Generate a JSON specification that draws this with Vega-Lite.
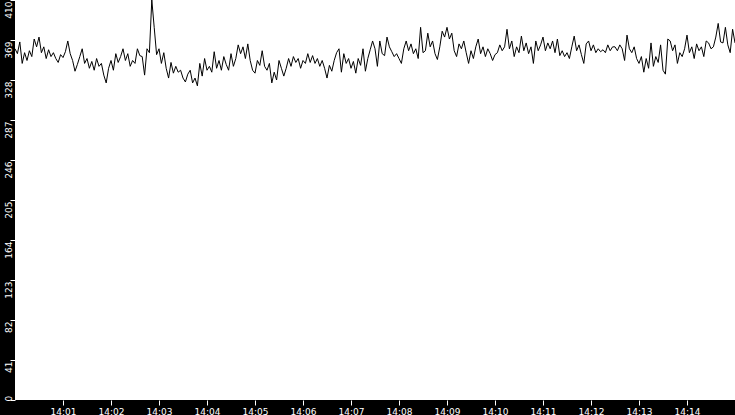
{
  "$schema": "https://vega.github.io/schema/vega-lite/v6.json",
  "width": 720,
  "height": 400,
  "autosize": {"type": "none"},
  "padding": {"left": 15, "top": 0, "right": 0, "bottom": 15},
  "background": "black",
  "config": {
    "view": {"fill": "white", "stroke": null},
    "axis": {
      "grid": false,
      "domain": false,
      "tickColor": "white",
      "tickSize": 5,
      "labelColor": "white",
      "labelFont": "DejaVu Sans",
      "labelFontSize": 9,
      "labelOverlap": false,
      "title": null
    }
  },
  "data": {
    "format": {"parse": {"t": "date:'%H:%M:%S'"}},
    "values": [
      {"t": "14:00:00", "v": 360}, {"t": "14:00:03", "v": 355}, {"t": "14:00:06", "v": 367}, {"t": "14:00:09", "v": 345}, {"t": "14:00:12", "v": 356},
      {"t": "14:00:15", "v": 348}, {"t": "14:00:18", "v": 358}, {"t": "14:00:21", "v": 352}, {"t": "14:00:24", "v": 370}, {"t": "14:00:27", "v": 362},
      {"t": "14:00:30", "v": 372}, {"t": "14:00:33", "v": 356}, {"t": "14:00:36", "v": 362}, {"t": "14:00:39", "v": 350}, {"t": "14:00:42", "v": 359},
      {"t": "14:00:45", "v": 352}, {"t": "14:00:48", "v": 356}, {"t": "14:00:51", "v": 350}, {"t": "14:00:54", "v": 346}, {"t": "14:00:57", "v": 354},
      {"t": "14:01:00", "v": 351}, {"t": "14:01:03", "v": 357}, {"t": "14:01:06", "v": 368}, {"t": "14:01:09", "v": 355}, {"t": "14:01:12", "v": 348},
      {"t": "14:01:15", "v": 337}, {"t": "14:01:18", "v": 344}, {"t": "14:01:21", "v": 352}, {"t": "14:01:24", "v": 360}, {"t": "14:01:27", "v": 345},
      {"t": "14:01:30", "v": 350}, {"t": "14:01:33", "v": 340}, {"t": "14:01:36", "v": 347}, {"t": "14:01:39", "v": 338}, {"t": "14:01:42", "v": 350},
      {"t": "14:01:45", "v": 342}, {"t": "14:01:48", "v": 345}, {"t": "14:01:51", "v": 333}, {"t": "14:01:54", "v": 325}, {"t": "14:01:57", "v": 340},
      {"t": "14:02:00", "v": 348}, {"t": "14:02:03", "v": 338}, {"t": "14:02:06", "v": 355}, {"t": "14:02:09", "v": 346}, {"t": "14:02:12", "v": 352},
      {"t": "14:02:15", "v": 360}, {"t": "14:02:18", "v": 348}, {"t": "14:02:21", "v": 355}, {"t": "14:02:24", "v": 342}, {"t": "14:02:27", "v": 348},
      {"t": "14:02:30", "v": 345}, {"t": "14:02:33", "v": 360}, {"t": "14:02:36", "v": 353}, {"t": "14:02:39", "v": 352}, {"t": "14:02:42", "v": 333},
      {"t": "14:02:45", "v": 360}, {"t": "14:02:48", "v": 356}, {"t": "14:02:51", "v": 410}, {"t": "14:02:54", "v": 382}, {"t": "14:02:57", "v": 354},
      {"t": "14:03:00", "v": 360}, {"t": "14:03:03", "v": 345}, {"t": "14:03:06", "v": 356}, {"t": "14:03:09", "v": 340}, {"t": "14:03:12", "v": 330},
      {"t": "14:03:15", "v": 346}, {"t": "14:03:18", "v": 335}, {"t": "14:03:21", "v": 342}, {"t": "14:03:24", "v": 336}, {"t": "14:03:27", "v": 338},
      {"t": "14:03:30", "v": 330}, {"t": "14:03:33", "v": 326}, {"t": "14:03:36", "v": 334}, {"t": "14:03:39", "v": 338}, {"t": "14:03:42", "v": 325},
      {"t": "14:03:45", "v": 330}, {"t": "14:03:48", "v": 322}, {"t": "14:03:51", "v": 345}, {"t": "14:03:54", "v": 332}, {"t": "14:03:57", "v": 350},
      {"t": "14:04:00", "v": 338}, {"t": "14:04:03", "v": 342}, {"t": "14:04:06", "v": 336}, {"t": "14:04:09", "v": 357}, {"t": "14:04:12", "v": 340},
      {"t": "14:04:15", "v": 348}, {"t": "14:04:18", "v": 338}, {"t": "14:04:21", "v": 352}, {"t": "14:04:24", "v": 344}, {"t": "14:04:27", "v": 338},
      {"t": "14:04:30", "v": 355}, {"t": "14:04:33", "v": 342}, {"t": "14:04:36", "v": 350}, {"t": "14:04:39", "v": 364}, {"t": "14:04:42", "v": 355},
      {"t": "14:04:45", "v": 362}, {"t": "14:04:48", "v": 350}, {"t": "14:04:51", "v": 365}, {"t": "14:04:54", "v": 348}, {"t": "14:04:57", "v": 338},
      {"t": "14:05:00", "v": 335}, {"t": "14:05:03", "v": 348}, {"t": "14:05:06", "v": 343}, {"t": "14:05:09", "v": 358}, {"t": "14:05:12", "v": 342},
      {"t": "14:05:15", "v": 338}, {"t": "14:05:18", "v": 345}, {"t": "14:05:21", "v": 325}, {"t": "14:05:24", "v": 336}, {"t": "14:05:27", "v": 328},
      {"t": "14:05:30", "v": 348}, {"t": "14:05:33", "v": 340}, {"t": "14:05:36", "v": 332}, {"t": "14:05:39", "v": 340}, {"t": "14:05:42", "v": 350},
      {"t": "14:05:45", "v": 342}, {"t": "14:05:48", "v": 352}, {"t": "14:05:51", "v": 346}, {"t": "14:05:54", "v": 350}, {"t": "14:05:57", "v": 340},
      {"t": "14:06:00", "v": 348}, {"t": "14:06:03", "v": 345}, {"t": "14:06:06", "v": 355}, {"t": "14:06:09", "v": 346}, {"t": "14:06:12", "v": 353},
      {"t": "14:06:15", "v": 345}, {"t": "14:06:18", "v": 350}, {"t": "14:06:21", "v": 342}, {"t": "14:06:24", "v": 348}, {"t": "14:06:27", "v": 340},
      {"t": "14:06:30", "v": 330}, {"t": "14:06:33", "v": 343}, {"t": "14:06:36", "v": 337}, {"t": "14:06:39", "v": 348}, {"t": "14:06:42", "v": 356},
      {"t": "14:06:45", "v": 360}, {"t": "14:06:48", "v": 336}, {"t": "14:06:51", "v": 355}, {"t": "14:06:54", "v": 345}, {"t": "14:06:57", "v": 350},
      {"t": "14:07:00", "v": 340}, {"t": "14:07:03", "v": 347}, {"t": "14:07:06", "v": 335}, {"t": "14:07:09", "v": 350}, {"t": "14:07:12", "v": 343},
      {"t": "14:07:15", "v": 360}, {"t": "14:07:18", "v": 337}, {"t": "14:07:21", "v": 350}, {"t": "14:07:24", "v": 359}, {"t": "14:07:27", "v": 368},
      {"t": "14:07:30", "v": 360}, {"t": "14:07:33", "v": 342}, {"t": "14:07:36", "v": 368}, {"t": "14:07:39", "v": 355}, {"t": "14:07:42", "v": 353},
      {"t": "14:07:45", "v": 372}, {"t": "14:07:48", "v": 362}, {"t": "14:07:51", "v": 357}, {"t": "14:07:54", "v": 352}, {"t": "14:07:57", "v": 355},
      {"t": "14:08:00", "v": 350}, {"t": "14:08:03", "v": 345}, {"t": "14:08:06", "v": 360}, {"t": "14:08:09", "v": 368}, {"t": "14:08:12", "v": 358},
      {"t": "14:08:15", "v": 365}, {"t": "14:08:18", "v": 355}, {"t": "14:08:21", "v": 360}, {"t": "14:08:24", "v": 350}, {"t": "14:08:27", "v": 382},
      {"t": "14:08:30", "v": 356}, {"t": "14:08:33", "v": 358}, {"t": "14:08:36", "v": 376}, {"t": "14:08:39", "v": 362}, {"t": "14:08:42", "v": 368},
      {"t": "14:08:45", "v": 355}, {"t": "14:08:48", "v": 349}, {"t": "14:08:51", "v": 362}, {"t": "14:08:54", "v": 378}, {"t": "14:08:57", "v": 372},
      {"t": "14:09:00", "v": 382}, {"t": "14:09:03", "v": 370}, {"t": "14:09:06", "v": 376}, {"t": "14:09:09", "v": 358}, {"t": "14:09:12", "v": 352},
      {"t": "14:09:15", "v": 365}, {"t": "14:09:18", "v": 360}, {"t": "14:09:21", "v": 368}, {"t": "14:09:24", "v": 356}, {"t": "14:09:27", "v": 345},
      {"t": "14:09:30", "v": 358}, {"t": "14:09:33", "v": 350}, {"t": "14:09:36", "v": 362}, {"t": "14:09:39", "v": 370}, {"t": "14:09:42", "v": 355},
      {"t": "14:09:45", "v": 362}, {"t": "14:09:48", "v": 352}, {"t": "14:09:51", "v": 360}, {"t": "14:09:54", "v": 355}, {"t": "14:09:57", "v": 348},
      {"t": "14:10:00", "v": 354}, {"t": "14:10:03", "v": 356}, {"t": "14:10:06", "v": 364}, {"t": "14:10:09", "v": 358}, {"t": "14:10:12", "v": 362},
      {"t": "14:10:15", "v": 380}, {"t": "14:10:18", "v": 360}, {"t": "14:10:21", "v": 368}, {"t": "14:10:24", "v": 352}, {"t": "14:10:27", "v": 362},
      {"t": "14:10:30", "v": 356}, {"t": "14:10:33", "v": 373}, {"t": "14:10:36", "v": 358}, {"t": "14:10:39", "v": 366}, {"t": "14:10:42", "v": 355},
      {"t": "14:10:45", "v": 362}, {"t": "14:10:48", "v": 345}, {"t": "14:10:51", "v": 368}, {"t": "14:10:54", "v": 358}, {"t": "14:10:57", "v": 364},
      {"t": "14:11:00", "v": 372}, {"t": "14:11:03", "v": 358}, {"t": "14:11:06", "v": 366}, {"t": "14:11:09", "v": 360}, {"t": "14:11:12", "v": 368},
      {"t": "14:11:15", "v": 356}, {"t": "14:11:18", "v": 370}, {"t": "14:11:21", "v": 353}, {"t": "14:11:24", "v": 358}, {"t": "14:11:27", "v": 352},
      {"t": "14:11:30", "v": 356}, {"t": "14:11:33", "v": 350}, {"t": "14:11:36", "v": 362}, {"t": "14:11:39", "v": 373}, {"t": "14:11:42", "v": 358},
      {"t": "14:11:45", "v": 364}, {"t": "14:11:48", "v": 354}, {"t": "14:11:51", "v": 345}, {"t": "14:11:54", "v": 365}, {"t": "14:11:57", "v": 368},
      {"t": "14:12:00", "v": 358}, {"t": "14:12:03", "v": 364}, {"t": "14:12:06", "v": 356}, {"t": "14:12:09", "v": 360}, {"t": "14:12:12", "v": 357},
      {"t": "14:12:15", "v": 359}, {"t": "14:12:18", "v": 356}, {"t": "14:12:21", "v": 364}, {"t": "14:12:24", "v": 358}, {"t": "14:12:27", "v": 362},
      {"t": "14:12:30", "v": 362}, {"t": "14:12:33", "v": 358}, {"t": "14:12:36", "v": 364}, {"t": "14:12:39", "v": 360}, {"t": "14:12:42", "v": 348},
      {"t": "14:12:45", "v": 374}, {"t": "14:12:48", "v": 360}, {"t": "14:12:51", "v": 356}, {"t": "14:12:54", "v": 362}, {"t": "14:12:57", "v": 350},
      {"t": "14:13:00", "v": 345}, {"t": "14:13:03", "v": 352}, {"t": "14:13:06", "v": 336}, {"t": "14:13:09", "v": 350}, {"t": "14:13:12", "v": 340},
      {"t": "14:13:15", "v": 366}, {"t": "14:13:18", "v": 342}, {"t": "14:13:21", "v": 352}, {"t": "14:13:24", "v": 346}, {"t": "14:13:27", "v": 364},
      {"t": "14:13:30", "v": 338}, {"t": "14:13:33", "v": 334}, {"t": "14:13:36", "v": 370}, {"t": "14:13:39", "v": 368}, {"t": "14:13:42", "v": 358},
      {"t": "14:13:45", "v": 364}, {"t": "14:13:48", "v": 345}, {"t": "14:13:51", "v": 356}, {"t": "14:13:54", "v": 352}, {"t": "14:13:57", "v": 360},
      {"t": "14:14:00", "v": 374}, {"t": "14:14:03", "v": 356}, {"t": "14:14:06", "v": 362}, {"t": "14:14:09", "v": 350}, {"t": "14:14:12", "v": 365},
      {"t": "14:14:15", "v": 358}, {"t": "14:14:18", "v": 362}, {"t": "14:14:21", "v": 352}, {"t": "14:14:24", "v": 368}, {"t": "14:14:27", "v": 366},
      {"t": "14:14:30", "v": 360}, {"t": "14:14:33", "v": 362}, {"t": "14:14:36", "v": 372}, {"t": "14:14:39", "v": 386}, {"t": "14:14:42", "v": 367},
      {"t": "14:14:45", "v": 366}, {"t": "14:14:48", "v": 382}, {"t": "14:14:51", "v": 364}, {"t": "14:14:54", "v": 356}, {"t": "14:14:57", "v": 380},
      {"t": "14:15:00", "v": 366}
    ]
  },
  "mark": {"type": "line", "color": "black", "strokeWidth": 1, "clip": true},
  "encoding": {
    "x": {
      "field": "t",
      "type": "temporal",
      "scale": {
        "domain": [
          {"year": 1900, "month": 1, "date": 1, "hours": 14, "minutes": 0},
          {"year": 1900, "month": 1, "date": 1, "hours": 14, "minutes": 15}
        ],
        "nice": false
      },
      "axis": {
        "format": "%H:%M",
        "labelPadding": 9,
        "labelBaseline": "alphabetic",
        "values": [
          {"year": 1900, "month": 1, "date": 1, "hours": 14, "minutes": 1},
          {"year": 1900, "month": 1, "date": 1, "hours": 14, "minutes": 2},
          {"year": 1900, "month": 1, "date": 1, "hours": 14, "minutes": 3},
          {"year": 1900, "month": 1, "date": 1, "hours": 14, "minutes": 4},
          {"year": 1900, "month": 1, "date": 1, "hours": 14, "minutes": 5},
          {"year": 1900, "month": 1, "date": 1, "hours": 14, "minutes": 6},
          {"year": 1900, "month": 1, "date": 1, "hours": 14, "minutes": 7},
          {"year": 1900, "month": 1, "date": 1, "hours": 14, "minutes": 8},
          {"year": 1900, "month": 1, "date": 1, "hours": 14, "minutes": 9},
          {"year": 1900, "month": 1, "date": 1, "hours": 14, "minutes": 10},
          {"year": 1900, "month": 1, "date": 1, "hours": 14, "minutes": 11},
          {"year": 1900, "month": 1, "date": 1, "hours": 14, "minutes": 12},
          {"year": 1900, "month": 1, "date": 1, "hours": 14, "minutes": 13},
          {"year": 1900, "month": 1, "date": 1, "hours": 14, "minutes": 14}
        ]
      }
    },
    "y": {
      "field": "v",
      "type": "quantitative",
      "scale": {"domain": [0, 410], "nice": false},
      "axis": {
        "values": [0, 41, 82, 123, 164, 205, 246, 287, 328, 369, 410],
        "labelAngle": -90,
        "labelAlign": {"condition": {"test": "datum.value == 0", "value": "left"}, "value": "right"},
        "labelBaseline": "alphabetic",
        "labelPadding": -1,
        "labelOffset": 1,
        "labelFlush": false
      }
    }
  }
}
